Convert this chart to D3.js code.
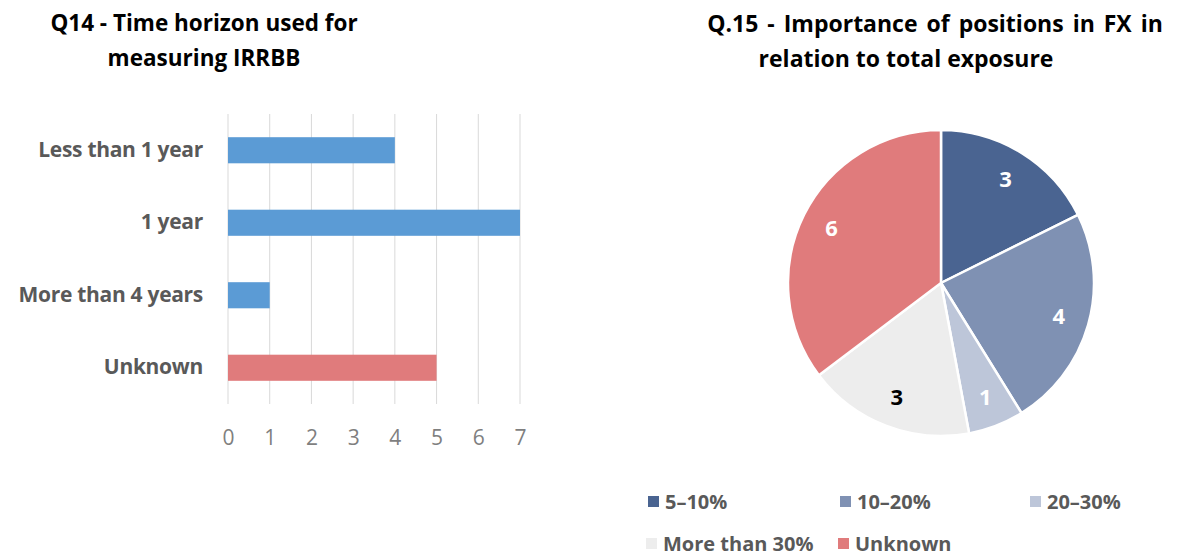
<!DOCTYPE html>
<html>
<head>
<meta charset="utf-8">
<script src="https://cdn.jsdelivr.net/npm/d3@7"></script>
<style>
  html, body { margin: 0; padding: 0; background: #fff; }
  svg { display: block; font-family: "Open Sans", "Noto Sans", sans-serif; }
</style>
</head>
<body>
<svg id="chart" width="1181" height="557"></svg>
<script>
// ---- Data ----
const barCategories = ["Less than 1 year", "1 year", "More than 4 years", "Unknown"];
const barValues = [4, 7, 1, 5];
const barColors = ["#5B9BD5", "#5B9BD5", "#5B9BD5", "#E07B7C"];
const barTicks = [0, 1, 2, 3, 4, 5, 6, 7];

const pieCategories = ["5–10%", "10–20%", "20–30%", "More than 30%", "Unknown"];
const pieValues = [3, 4, 1, 3, 6];
const pieColors = ["#4A6491", "#7F91B3", "#BDC6D9", "#EDEDED", "#E07B7C"];
const pieLabelColors = ["#ffffff", "#ffffff", "#ffffff", "#000000", "#ffffff"];

const title1 = ["Q14 - Time horizon used for", "measuring IRRBB"];
const title2 = ["Q.15 - Importance of positions in FX in", "relation to total exposure"];

const svg = d3.select("#chart");

// ---- Bar chart ----
const x = d3.scaleLinear().domain([0, 7]).range([228, 520]);
const y = d3.scaleBand().domain(barCategories).range([114, 404]).paddingInner(0.64).paddingOuter(0.32);

const bar = svg.append("g");
bar.selectAll("line.grid").data(barTicks).join("line")
  .attr("x1", d => x(d)).attr("x2", d => x(d))
  .attr("y1", 114).attr("y2", 404)
  .attr("stroke", "#D9D9D9").attr("stroke-width", 1);

bar.selectAll("rect").data(barValues).join("rect")
  .attr("x", x(0))
  .attr("y", (d, i) => y(barCategories[i]))
  .attr("width", d => x(d) - x(0))
  .attr("height", y.bandwidth())
  .attr("fill", (d, i) => barColors[i]);

const xAxis = d3.axisBottom(x).tickValues(barTicks).tickFormat(d3.format("d")).tickSize(0).tickPadding(0);
const xg = bar.append("g").attr("transform", "translate(0,438)").call(xAxis);
xg.select(".domain").remove();
xg.selectAll("text").attr("font-size", 21).attr("fill", "#7F7F7F")
  .attr("font-family", "'Open Sans', sans-serif").attr("dy", "0.35em");

const yAxis = d3.axisLeft(y).tickSize(0).tickPadding(25);
const yg = bar.append("g").attr("transform", `translate(${x(0)},0)`).call(yAxis);
yg.select(".domain").remove();
yg.selectAll("text").attr("font-size", 21).attr("font-weight", "bold").attr("fill", "#595959")
  .attr("font-family", "'Open Sans', sans-serif").attr("letter-spacing", "-0.3");

svg.append("text").attr("text-anchor", "middle").attr("font-weight", "bold")
  .attr("font-size", 22.5).attr("fill", "#000")
  .selectAll("tspan").data(title1).join("tspan")
  .attr("x", 204).attr("y", (d, i) => 31 + i * 35).text(d => d);

// ---- Pie chart ----
const cx = 941, cy = 283, r = 153;
const pie = d3.pie().sort(null).value(d => d)(pieValues);
const arc = d3.arc().innerRadius(0).outerRadius(r);
const labelArc = d3.arc().innerRadius(r * 0.8).outerRadius(r * 0.8);
const pg = svg.append("g").attr("transform", `translate(${cx},${cy})`);
pg.selectAll("path").data(pie).join("path")
  .attr("d", arc)
  .attr("fill", (d, i) => pieColors[i])
  .attr("stroke", "#fff").attr("stroke-width", 2.5);
pg.selectAll("text").data(pie).join("text")
  .attr("transform", d => {
    const c = labelArc.centroid(d);
    return `translate(${c[0]},${c[1]})`;
  })
  .attr("text-anchor", "middle").attr("dy", "0.35em")
  .attr("font-size", 22).attr("font-weight", "bold")
  .attr("fill", (d, i) => pieLabelColors[i])
  .text(d => d.data);

svg.append("text").attr("font-weight", "bold")
  .attr("font-size", 23).attr("fill", "#000").attr("text-anchor", "middle")
  .selectAll("tspan").data(title2).join("tspan")
  .attr("word-spacing", (d, i) => i === 0 ? 3 : 0)
  .attr("x", (d, i) => i === 0 ? 935 : 906).attr("y", (d, i) => 32 + i * 35).text(d => d);

// ---- Legend ----
const legendPos = [[648, 502], [840, 502], [1030, 502], [646, 544], [838, 544]];
const lg = svg.append("g");
const items = lg.selectAll("g").data(pieCategories).join("g")
  .attr("transform", (d, i) => `translate(${legendPos[i][0]},${legendPos[i][1]})`);
items.append("rect").attr("x", 0).attr("y", -6).attr("width", 11).attr("height", 11)
  .attr("fill", (d, i) => pieColors[i]);
items.append("text").attr("x", 17).attr("dy", "0.35em")
  .attr("font-size", 20).attr("font-weight", "bold").attr("fill", "#595959")
  .text(d => d);
</script>
</body>
</html>
